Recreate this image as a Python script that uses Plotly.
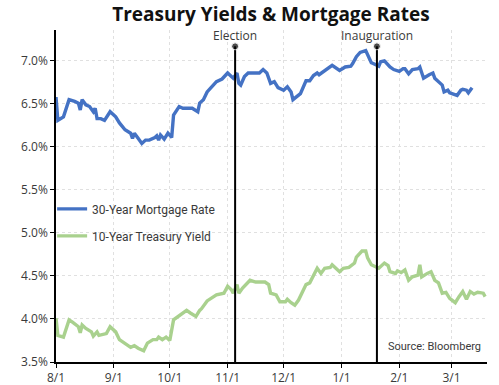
import plotly.graph_objects as go

mort_dates = ["2024-08-01","2024-08-02","2024-08-05","2024-08-08","2024-08-11","2024-08-13","2024-08-14","2024-08-15",
 "2024-08-17","2024-08-19","2024-08-21","2024-08-22","2024-08-23","2024-08-25","2024-08-27","2024-08-30",
 "2024-09-02","2024-09-04","2024-09-07","2024-09-10","2024-09-11","2024-09-12","2024-09-14","2024-09-16",
 "2024-09-18","2024-09-20","2024-09-23","2024-09-24","2024-09-25","2024-09-26","2024-09-28","2024-09-30",
 "2024-10-02","2024-10-03","2024-10-06","2024-10-08","2024-10-13","2024-10-16","2024-10-17","2024-10-19",
 "2024-10-21","2024-10-23","2024-10-24","2024-10-26","2024-10-29","2024-11-01","2024-11-03","2024-11-04",
 "2024-11-06","2024-11-07","2024-11-08","2024-11-10","2024-11-12","2024-11-14","2024-11-18","2024-11-20",
 "2024-11-22","2024-11-24","2024-11-26","2024-11-28","2024-12-01","2024-12-03","2024-12-05","2024-12-06",
 "2024-12-08","2024-12-10","2024-12-13","2024-12-15","2024-12-17","2024-12-19","2024-12-20","2024-12-22",
 "2024-12-24","2024-12-27","2024-12-31","2025-01-03","2025-01-06","2025-01-07","2025-01-09","2025-01-11",
 "2025-01-14","2025-01-15","2025-01-17","2025-01-18","2025-01-21","2025-01-22","2025-01-24","2025-01-27",
 "2025-01-29","2025-02-01","2025-02-03","2025-02-04","2025-02-06","2025-02-08","2025-02-11","2025-02-12",
 "2025-02-14","2025-02-17","2025-02-19","2025-02-20","2025-02-22","2025-02-24","2025-02-25","2025-02-27",
 "2025-02-28","2025-03-02","2025-03-04","2025-03-06","2025-03-07","2025-03-09","2025-03-10","2025-03-12"]
mort_rate = [6.58,6.31,6.35,6.55,6.53,6.51,6.43,6.55,
 6.49,6.47,6.41,6.45,6.33,6.33,6.31,6.41,
 6.35,6.28,6.20,6.16,6.10,6.16,6.10,6.04,
 6.08,6.08,6.11,6.13,6.08,6.14,6.09,6.16,
 6.11,6.37,6.47,6.45,6.45,6.41,6.51,6.55,
 6.64,6.69,6.70,6.76,6.79,6.86,6.82,6.80,
 6.86,6.74,6.72,6.82,6.86,6.86,6.86,6.90,
 6.86,6.74,6.76,6.69,6.66,6.70,6.64,6.55,
 6.58,6.62,6.77,6.77,6.83,6.86,6.84,6.87,
 6.90,6.95,6.89,6.93,6.94,6.97,7.05,7.10,
 7.12,7.07,6.98,6.97,6.94,6.99,7.00,6.93,
 6.90,6.88,6.91,6.91,6.85,6.90,6.91,6.93,
 6.80,6.84,6.86,6.80,6.76,6.72,6.64,6.66,
 6.63,6.62,6.60,6.66,6.67,6.66,6.63,6.69]

tsy_dates = ["2024-08-01","2024-08-02","2024-08-05","2024-08-08","2024-08-10","2024-08-13","2024-08-14","2024-08-15",
 "2024-08-17","2024-08-20","2024-08-21","2024-08-23","2024-08-24","2024-08-28","2024-08-30","2024-09-02",
 "2024-09-04","2024-09-07","2024-09-10","2024-09-12","2024-09-14","2024-09-17","2024-09-19","2024-09-22",
 "2024-09-24","2024-09-25","2024-09-27","2024-09-29","2024-10-01","2024-10-03","2024-10-07","2024-10-10",
 "2024-10-12","2024-10-15","2024-10-17","2024-10-18","2024-10-21","2024-10-23","2024-10-26","2024-10-30",
 "2024-11-01","2024-11-03","2024-11-04","2024-11-06","2024-11-07","2024-11-09","2024-11-13","2024-11-16",
 "2024-11-19","2024-11-21","2024-11-23","2024-11-24","2024-11-27","2024-11-29","2024-12-02","2024-12-03",
 "2024-12-05","2024-12-07","2024-12-09","2024-12-13","2024-12-15","2024-12-18","2024-12-19","2024-12-21",
 "2024-12-23","2024-12-26","2024-12-27","2024-12-30","2024-12-31","2025-01-02","2025-01-05","2025-01-08",
 "2025-01-09","2025-01-12","2025-01-14","2025-01-15","2025-01-17","2025-01-19","2025-01-21","2025-01-24",
 "2025-01-26","2025-01-27","2025-01-30","2025-01-31","2025-02-02","2025-02-04","2025-02-06","2025-02-08",
 "2025-02-11","2025-02-12","2025-02-13","2025-02-16","2025-02-18","2025-02-20","2025-02-22","2025-02-24",
 "2025-02-26","2025-02-28","2025-03-03","2025-03-05","2025-03-07","2025-03-09","2025-03-11","2025-03-13",
 "2025-03-15","2025-03-18","2025-03-19"]
tsy_yield = [4.01,3.81,3.79,3.99,3.96,3.91,3.84,3.93,
 3.89,3.85,3.80,3.85,3.81,3.83,3.91,3.85,
 3.76,3.72,3.67,3.69,3.66,3.63,3.72,3.76,
 3.76,3.79,3.76,3.79,3.75,3.99,4.05,4.10,
 4.07,4.03,4.10,4.12,4.21,4.24,4.28,4.30,
 4.38,4.34,4.30,4.40,4.30,4.36,4.45,4.43,
 4.43,4.43,4.40,4.30,4.28,4.20,4.20,4.23,
 4.19,4.16,4.22,4.40,4.42,4.55,4.59,4.53,
 4.59,4.60,4.63,4.57,4.55,4.59,4.60,4.65,
 4.72,4.79,4.79,4.71,4.63,4.61,4.59,4.65,
 4.62,4.55,4.53,4.56,4.54,4.57,4.45,4.49,
 4.51,4.63,4.49,4.53,4.55,4.45,4.42,4.30,
 4.31,4.24,4.19,4.26,4.32,4.23,4.32,4.29,
 4.31,4.30,4.26]

event_names = ["Election", "Inauguration"]
event_dates = ["2024-11-05", "2025-01-20"]
event_top = 7.17

y_ticks = [3.5, 4.0, 4.5, 5.0, 5.5, 6.0, 6.5, 7.0]
y_tick_labels = ["3.5%", "4.0%", "4.5%", "5.0%", "5.5%", "6.0%", "6.5%", "7.0%"]

BLUE = "#4472C4"
GREEN = "#A9D18E"
TXT = "#3a3a3a"

fig = go.Figure()
fig.add_trace(go.Scatter(x=mort_dates, y=mort_rate, mode="lines", name="30-Year Mortgage Rate",
                         line=dict(color=BLUE, width=3.4), legendgroup="a"))
fig.add_trace(go.Scatter(x=tsy_dates, y=tsy_yield, mode="lines", name="10-Year Treasury Yield",
                         line=dict(color=GREEN, width=3.4), legendgroup="b"))

for name, d in zip(event_names, event_dates):
    fig.add_trace(go.Scatter(x=[d, d], y=[3.5, event_top], mode="lines+markers",
                             line=dict(color="black", width=2),
                             marker=dict(size=[0, 7], color="black"),
                             showlegend=False, hoverinfo="skip"))
    fig.add_annotation(x=d, y=event_top, yshift=0, text=name, showarrow=False,
                       font=dict(family="Open Sans", size=12, color=TXT), yanchor="bottom")

fig.add_annotation(xref="paper", yref="paper", x=0.99, y=0.02, text="Source: Bloomberg",
                   showarrow=False, xanchor="right", yanchor="bottom",
                   font=dict(family="Roboto", size=11, color=TXT))

fig.update_layout(
    width=499, height=385,
    margin=dict(l=56, r=12, t=30, b=23, autoexpand=False),
    plot_bgcolor="white", paper_bgcolor="white",
    title=dict(text="<b>Treasury Yields & Mortgage Rates</b>", x=0.543, xanchor="center",
               y=0.963, yanchor="middle", font=dict(family="Open Sans", size=19, color="#111")),
    legend=dict(x=-0.009, y=0.505, xanchor="left", yanchor="top", bgcolor="rgba(0,0,0,0)",
                font=dict(family="Roboto", size=12, color=TXT), tracegroupgap=8, itemwidth=30),
    showlegend=True,
)
fig.update_xaxes(range=["2024-08-01", "2025-03-20"], tickformat="%-m/%-d", dtick="M1",
                 tick0="2024-08-01", ticks="outside", ticklen=4, tickcolor="black",
                 showline=True, linecolor="black", linewidth=1.5, automargin=False,
                 showgrid=True, gridcolor="#e0e0e0", griddash="dot", gridwidth=1,
                 tickfont=dict(family="Open Sans", size=12, color=TXT))
fig.update_yaxes(range=[3.5, 7.36], tickvals=y_ticks, ticktext=y_tick_labels,
                 ticks="outside", ticklen=4, tickcolor="black", automargin=False,
                 showline=True, linecolor="black", linewidth=1.5,
                 showgrid=True, gridcolor="#e0e0e0", griddash="dot", gridwidth=1,
                 tickfont=dict(family="Open Sans", size=12, color=TXT), zeroline=False)

fig.write_html("out.html", config={"displayModeBar": False},
               post_script="document.body.style.margin='0';document.body.style.padding='0';")
